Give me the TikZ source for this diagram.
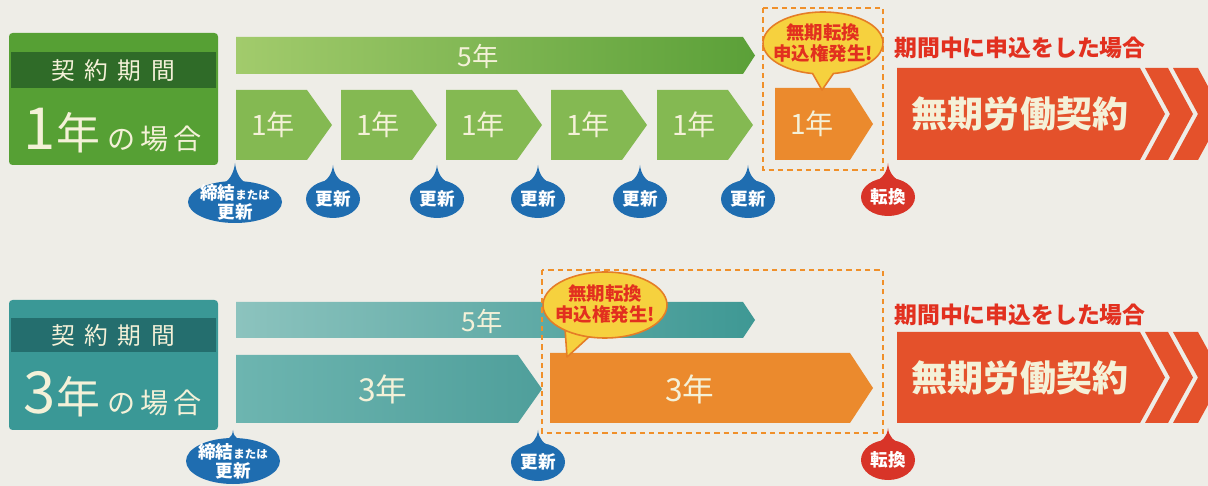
\documentclass[tikz,border=0pt]{standalone}
\usepackage{fontspec}
\setmainfont{Noto Sans CJK JP}
\usepackage{xcolor}
\usetikzlibrary{shapes.geometric}

\definecolor{paper}{HTML}{EEEDE7}
\definecolor{cream}{HTML}{F4F1D8}
\definecolor{boxgreen}{HTML}{56A034}
\definecolor{bandgreen}{HTML}{2F6B28}
\definecolor{chevgreen}{HTML}{84B952}
\definecolor{barleft}{HTML}{A2CB6C}
\definecolor{barright}{HTML}{5BA038}
\definecolor{boxteal}{HTML}{3A9896}
\definecolor{bandteal}{HTML}{246E6E}
\definecolor{tbarleft}{HTML}{8CC3BE}
\definecolor{tbarright}{HTML}{3E9894}
\definecolor{tchevleft}{HTML}{6DB5B0}
\definecolor{tchevright}{HTML}{4F9F9B}
\definecolor{orangec}{HTML}{EB8A2D}
\definecolor{redc}{HTML}{E4512B}
\definecolor{headred}{HTML}{E2301F}
\definecolor{dashor}{HTML}{F0902A}
\definecolor{bubyel}{HTML}{F6D13E}
\definecolor{bubedge}{HTML}{E57D26}
\definecolor{dropblue}{HTML}{1F6DB0}
\definecolor{dropred}{HTML}{D83428}

\newcommand\fsz[2]{\fontsize{#1}{#2}\selectfont}

% drop-shaped tag: name, cx, cy, rx, ry, tip y, colour, text
\newcommand\drop[8]{%
  \fill[#7] (#2,#3) ellipse [x radius=#4, y radius=#5];
  \fill[#7] (#2,#6) .. controls (#2+1,#6+9) and (#2+5,#3-#5+1) .. (#2+16,#3-#5+5)
    -- (#2-16,#3-#5+5) .. controls (#2-5,#3-#5+1) and (#2-1,#6+9) .. cycle;
  \node[droptext] (#1) at (#2,#3) {#8};}

% red arrow with two extra chevrons: top y, bottom y
\newcommand\redarrow[2]{%
  \pgfmathsetmacro\ym{(#1+#2)/2}
  \pgfmathsetmacro\ya{#1+0.4*(\ym-#1)}
  \pgfmathsetmacro\yb{#2-0.4*(#2-\ym)}
  \fill[redc] (897,#1) -- (1140,#1) -- (1165,\ym) -- (1140,#2) -- (897,#2) -- cycle;
  \fill[redc] (1145,#1) -- (1168,#1) -- (1193,\ym) -- (1168,#2) -- (1145,#2) -- (1170,\ym) -- cycle;
  \fill[redc] (1173,#1) -- (1198,#1) -- (1208,\ya) -- (1208,\yb) -- (1198,#2) -- (1173,#2) -- (1198,\ym) -- cycle;}

\begin{document}
\begin{tikzpicture}[x=0.02cm, y=-0.02cm,
  lbltext/.style={text=cream, inner sep=0},
  bartext/.style={text=cream, inner sep=0, font=\fsz{16pt}{16pt}},
  bubtext/.style={text=headred, align=center, inner sep=0, font=\bfseries\fsz{10.5pt}{12pt}},
  droptext/.style={text=white, align=center, inner sep=0, font=\bfseries\fsz{10pt}{11pt}},
  redhead/.style={text=headred, inner sep=0, font=\bfseries\fsz{13pt}{13pt}},
  bigtext/.style={text=cream, inner sep=0, font=\bfseries\fsz{20.5pt}{20.5pt}},
  bubble/.style={fill=bubyel, draw=bubedge, line width=0.9pt, line join=round},
  dashbox/.style={draw=dashor, line width=1.3pt, dash pattern=on 3pt off 2.3pt}]
\useasboundingbox (0,0) rectangle (1208,486);
\fill[paper] (0,0) rectangle (1208,486);

% ---- 1-year contracts ----
\fill[boxgreen, rounded corners=2pt] (9,33) rectangle (218,165);
\fill[bandgreen] (11,52) rectangle (216,88);
\node[lbltext, font=\fsz{13.5pt}{14pt}] (cap1) at (113,71) {契\hspace{5.5pt}約\hspace{5.5pt}期\hspace{5.5pt}間};
\node[lbltext, anchor=base] (case1) at (113,150)
  {{\fsz{33pt}{33pt}1}{\fsz{25pt}{25pt}年}\hspace{4pt}{\fsz{16pt}{16pt}の\hspace{3pt}場\hspace{3pt}合}};

% 5 year bar
\shade[left color=barleft, right color=barright]
  (236,37) -- (743,37) -- (755,55.5) -- (743,74) -- (236,74) -- cycle;
\node[bartext, font=\fsz{15pt}{15pt}] (five1) at (478,56) {5年};

% yearly steps
\foreach \s [count=\i] in {236,341,446,551,657} {
  \fill[chevgreen] (\s,90) -- (\s+71,90) -- (\s+96,125) -- (\s+71,160) -- (\s,160) -- cycle;
  \node[bartext] (y\i) at (\s+37,125) {1年};
}

% conversion year
\draw[dashbox] (763,8) rectangle (883,170);
\fill[orangec] (775,88) -- (850,88) -- (873,124) -- (850,160) -- (775,160) -- cycle;
\node[bartext] (y6) at (812,124) {1年};
\filldraw[bubble] (822,90) -- ([shift={(823,43)}]100:60 and 31)
  arc [start angle=100, end angle=440, x radius=60, y radius=31] -- cycle;
\node[bubtext] (bub1) at (823,43) {無期転換\\申込権発生!};

% indefinite contract
\node[redhead] (head1) at (1020,48) {期間中に申込をした場合};
\redarrow{68}{160}
\node[bigtext] (muki1) at (1020,114) {無期労働契約};

% tags
\drop{start1}{235}{202}{47}{21}{163}{dropblue}{締結{\fsz{6.5pt}{7pt}または}\\更新}
\foreach \x [count=\i] in {333,437,538,640,748}
  {\drop{renew\i}{\x}{199}{27}{19}{165}{dropblue}{更新}}
\drop{conv1}{888}{197}{27}{19}{163}{dropred}{転換}

% ---- 3-year contracts ----
\fill[boxteal, rounded corners=2pt] (9,300) rectangle (218,430);
\fill[bandteal] (11,318) rectangle (216,352);
\node[lbltext, font=\fsz{13.5pt}{14pt}] (cap2) at (113,336) {契\hspace{5.5pt}約\hspace{5.5pt}期\hspace{5.5pt}間};
\node[lbltext, anchor=base] (case2) at (113,414)
  {{\fsz{33pt}{33pt}3}{\fsz{25pt}{25pt}年}\hspace{4pt}{\fsz{16pt}{16pt}の\hspace{3pt}場\hspace{3pt}合}};

% 5 year bar
\shade[left color=tbarleft, right color=tbarright]
  (236,302) -- (743,302) -- (755,320) -- (743,338) -- (236,338) -- cycle;
\node[bartext, font=\fsz{15pt}{15pt}] (five2) at (482,321) {5年};

% first term
\shade[left color=tchevleft, right color=tchevright]
  (236,355) -- (518,355) -- (542,389) -- (518,423) -- (236,423) -- cycle;
\node[bartext, font=\fsz{18pt}{18pt}] (t1) at (383,389) {3年};

% conversion term
\draw[dashbox] (542,270) rectangle (883,433);
\fill[orangec] (550,353) -- (850,353) -- (873,388) -- (850,423) -- (550,423) -- cycle;
\node[bartext, font=\fsz{18pt}{18pt}] (t2) at (690,389) {3年};
\filldraw[bubble] (567,357) -- ([shift={(605,305)}]105:62 and 33)
  arc [start angle=105, end angle=490, x radius=62, y radius=33] -- cycle;
\node[bubtext] (bub2) at (605,304) {無期転換\\申込権発生!};

% indefinite contract
\node[redhead] (head2) at (1020,315) {期間中に申込をした場合};
\redarrow{332}{423}
\node[bigtext] (muki2) at (1020,378) {無期労働契約};

% tags
\drop{start2}{233}{461}{47}{23}{430}{dropblue}{締結{\fsz{6.5pt}{7pt}または}\\更新}
\drop{renew6}{538}{462}{27}{19}{430}{dropblue}{更新}
\drop{conv2}{888}{460}{27}{20}{428}{dropred}{転換}
\end{tikzpicture}
\end{document}
